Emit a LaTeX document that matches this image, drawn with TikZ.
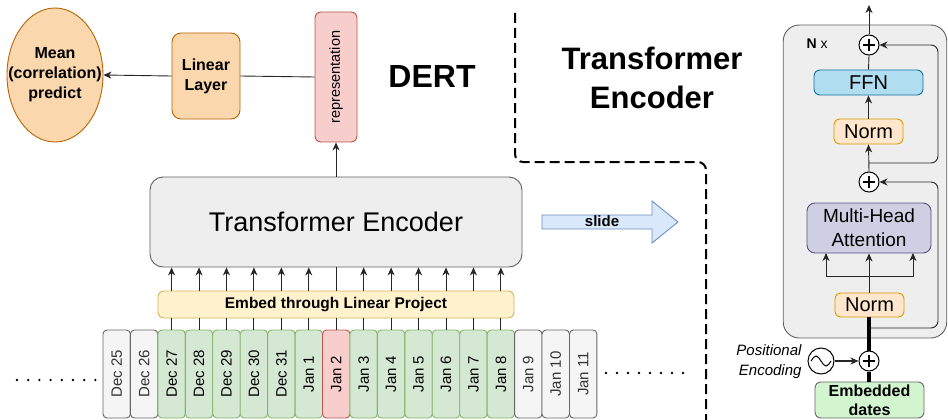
\documentclass[tikz,border=0pt]{standalone}
\usepackage{fontspec}
\setmainfont{Liberation Sans}
\usetikzlibrary{arrows.meta,shapes.geometric}
\definecolor{orfill}{HTML}{FAD7AC}
\definecolor{ordraw}{HTML}{B46504}
\definecolor{redfill}{HTML}{F8CECC}
\definecolor{reddraw}{HTML}{B85450}
\definecolor{grnfill}{HTML}{D5E8D4}
\definecolor{grndraw}{HTML}{82B366}
\definecolor{grayfill}{HTML}{F5F5F5}
\definecolor{graydraw}{HTML}{666666}
\definecolor{yelfill}{HTML}{FFF2CC}
\definecolor{yeldraw}{HTML}{D6B656}
\definecolor{encfill}{HTML}{EEEEEE}
\definecolor{encdraw}{HTML}{36393D}
\definecolor{bluefill}{HTML}{B1DDF0}
\definecolor{bluedraw}{HTML}{10739E}
\definecolor{normfill}{HTML}{FFE6CC}
\definecolor{normdraw}{HTML}{D79B00}
\definecolor{purfill}{HTML}{D0CEE2}
\definecolor{purdraw}{HTML}{56517E}
\definecolor{slfill}{HTML}{DAE8FC}
\definecolor{sldraw}{HTML}{6C8EBF}
\definecolor{embfill}{HTML}{D2F5D0}
\tikzset{
  box/.style={draw, rounded corners=6pt, inner sep=0pt, align=center, line width=0.9pt},
  datebox/.style={box, rounded corners=4pt, minimum width=27.44pt, minimum height=88pt, font=\fontsize{15pt}{18pt}\selectfont},
  dgray/.style={fill=grayfill, draw=graydraw, text=black!80},
  dgreen/.style={fill=grnfill, draw=grndraw},
  dred/.style={fill=redfill, draw=reddraw},
  arr/.style={-{Stealth[length=8pt,width=7pt,inset=2.5pt]}},
  conn/.style={line width=0.9pt, draw=black!85},
  plusnode/.style={circle, draw, fill=white, minimum size=20pt, inner sep=0pt, line width=1pt,
    path picture={\draw[line width=1.4pt] ([xshift=-6pt]path picture bounding box.center) -- ([xshift=6pt]path picture bounding box.center)
      ([yshift=-6pt]path picture bounding box.center) -- ([yshift=6pt]path picture bounding box.center);}},
  rtext/.style={font=\fontsize{20pt}{24pt}\selectfont},
  dotmark/.style={fill=black, draw=none, circle, inner sep=0pt, minimum size=2.6pt},
}
\begin{document}
\begin{tikzpicture}[x=1pt,y=-1pt]
\useasboundingbox (0,0) rectangle (948,420);

% ---------------- left part ----------------
\node[ellipse, draw=ordraw, fill=orfill, line width=0.9pt, minimum width=96pt, minimum height=134pt, inner sep=0pt] (mean) at (55,75) {};
\node[align=center, font=\bfseries\fontsize{16pt}{20pt}\selectfont] (meantext) at (mean.center) {Mean\\(correlation)\\predict};
\node[box, rounded corners=9pt, draw=ordraw, fill=orfill, minimum width=68pt, minimum height=86pt,
      font=\bfseries\fontsize{16pt}{20pt}\selectfont] (lin) at (206,76) {Linear\\Layer};
\node[box, draw=reddraw, fill=redfill, minimum width=42pt, minimum height=130pt,
      font=\fontsize{14.5pt}{17pt}\selectfont] (rep) at (336,77) {\rotatebox{90}{representation}};
\node[font=\bfseries\fontsize{32pt}{36pt}\selectfont] (dert) at (432,76) {DERT};
\node[align=center, font=\bfseries\fontsize{31pt}{39pt}\selectfont] (title) at (652,78) {Transformer\\Encoder};

\node[box, rounded corners=13pt, draw=encdraw!80, fill=encfill, minimum width=372pt, minimum height=90pt,
      font=\fontsize{27pt}{30pt}\selectfont] (enc) at (336,222) {Transformer Encoder};
\node[box, draw=yeldraw, fill=yelfill, minimum width=356pt, minimum height=27pt,
      font=\bfseries\fontsize{15.5pt}{18pt}\selectfont] (emb) at (336,304.5) {Embed through Linear Project};

\draw[conn] (rep.west) -- (lin.east);
\draw[conn, arr] (lin.west) -- (mean.east);
\draw[conn, arr] (enc.north -| rep.south) -- (rep.south);

\foreach \lab/\sty [count=\i from 0] in {Dec 25/dgray, Dec 26/dgray, Dec 27/dgreen, Dec 28/dgreen, Dec 29/dgreen,
   Dec 30/dgreen, Dec 31/dgreen, Jan 1/dgreen, Jan 2/dred, Jan 3/dgreen, Jan 4/dgreen, Jan 5/dgreen, Jan 6/dgreen,
   Jan 7/dgreen, Jan 8/dgreen, Jan 9/dgray, Jan 10/dgray, Jan 11/dgray}{
  \node[datebox, \sty] (d\i) at ({116.72+27.44*\i},374) {\rotatebox{90}{\lab}};
}
\foreach \i in {2,...,14}{
  \draw[conn] (d\i.north) -- (d\i.north |- emb.south);
}
\foreach \i in {2,3,4,5,6,7,9,10,11,12,13,14}{
  \draw[conn, arr] (d\i.north |- emb.north) -- (d\i.north |- enc.south);
}
\draw[conn] (d8.north |- emb.north) -- (d8.north |- enc.south);

% dots
\foreach \k in {0,...,7}{
  \node[dotmark] (ld\k) at ({17+11.2*\k},380) {};
  \node[dotmark] (rd\k) at ({606+11*\k},373) {};
}

% slide arrow
\draw[draw=sldraw, fill=slfill, line width=0.9pt] (542,215) -- (652,215) -- (652,201) -- (678,222) -- (652,243) -- (652,229) -- (542,229) -- cycle;
\node[font=\bfseries\fontsize{15pt}{18pt}\selectfont] (slide) at (602,221) {slide};

% dashed separator
\draw[line width=2pt, dash pattern=on 10pt off 5pt, rounded corners=8pt] (515,13) -- (515,162) -- (706,162) -- (706,420);

% ---------------- right part ----------------
\node[draw=encdraw!80, fill=encfill, rounded corners=16pt, line width=0.9pt, minimum width=163.5pt, minimum height=313pt, inner sep=0pt] (panel) at (865,181.5) {};
\node[font=\fontsize{14pt}{16pt}\selectfont, anchor=west] (nx) at (803,44) {\textbf{N} x};

\node[plusnode] (p1) at (869,45) {};
\node[plusnode] (p2) at (869,182) {};
\node[box, draw=bluedraw, fill=bluefill, minimum width=109pt, minimum height=25pt, rtext] (ffn) at (868.5,82.5) {FFN};
\node[box, draw=normdraw, fill=normfill, minimum width=69pt, minimum height=25pt, rtext] (n1) at (868.5,131.5) {Norm};
\node[box, rounded corners=8pt, draw=purdraw, fill=purfill, minimum width=124pt, minimum height=50pt, rtext,
      font=\fontsize{19pt}{24pt}\selectfont] (mha) at (869,228) {Multi-Head\\Attention};
\node[box, draw=normdraw, fill=normfill, minimum width=69pt, minimum height=24pt, rtext] (n2) at (869.5,305) {Norm};
\node[plusnode] (p3) at (869,361) {};
\node[box, draw=graydraw, fill=embfill, minimum width=109pt, minimum height=36pt,
      font=\bfseries\fontsize{16pt}{19pt}\selectfont] (edates) at (869.5,400) {Embedded\\dates};
\node[circle, draw, fill=white, minimum size=26pt, inner sep=0pt, line width=1pt] (sine) at (821,361) {};
\draw[line width=1pt] (sine.center) ++(-10,0) sin ++(5,-5) cos ++(5,5) sin ++(5,5) cos ++(5,-5);
\node[align=right, anchor=east, font=\itshape\fontsize{15pt}{20pt}\selectfont] (pe) at (805,362) {Positional\\Encoding};

\coordinate (top) at (869,5);
\coordinate (b1) at (869,163);
\coordinate (b2) at (869,328);
\coordinate (mhasplit) at (869,276);

\draw[conn, arr] (p1.north) -- (top);
\draw[conn] (ffn.north) -- (p1.south);
\draw[conn, arr] (n1.north) -- (ffn.south);
\draw[conn, arr] (p2.north) -- (n1.south);
\draw[conn] (mha.north |- p2.south) -- (p2.south);
\draw[conn, arr] (n2.north -| mhasplit) -- (mhasplit |- mha.south);
\draw[conn, arr] (mhasplit) -- (826,276) -- (826,253);
\draw[conn, arr] (mhasplit) -- (913,276) -- (913,253);
\draw[line width=3.5pt] (p3.north) -- (n2.south -| p3.north);
\draw[line width=3.5pt] (edates.north -| p3.south) -- (p3.south);
\draw[conn, arr, rounded corners=7pt] (b1) -- (938,163) -- (938,45) -- (p1.east);
\draw[conn, arr, rounded corners=7pt] (b2) -- (938,328) -- (938,182) -- (p2.east);
\draw[conn, arr, line width=1.2pt] (sine.east) -- (p3.west);
\end{tikzpicture}
\end{document}
